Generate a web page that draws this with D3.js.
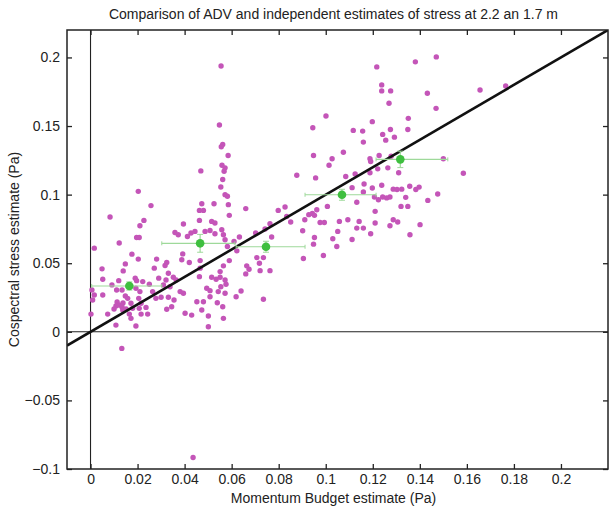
<!DOCTYPE html>
<html>
<head>
<meta charset="utf-8">
<script src="https://cdn.jsdelivr.net/npm/d3@7"></script>
<style>
  body { margin: 0; background: #fff; }
  text { font-family: "Liberation Sans", Arial, sans-serif; fill: #222; }
</style>
</head>
<body>
<svg id="chart"></svg>
<script>
// ADV (cospectral) vs momentum budget stress estimates, Pa
const advX = [
  0.0203, 0.0257, 0.0083, 0.0227, 0.0210, 0.0196, 0.0207, 0.0122, 0.0016, 0.0176,
  0.0148, 0.0203, 0.0281, 0.0049, 0.0139, 0.0271, 0.0190, 0.0196, 0.0052, 0.0120,
  0.0222, 0.0250, 0.0290, 0.0091, 0.0006, 0.0016, 0.0009, 0.0052, 0.0111, 0.0134,
  0.0193, 0.0210, 0.0264, 0.0148, 0.0158, 0.0205, 0.0278, 0.0113, 0.0121, 0.0134,
  0.0108, 0.0138, 0.0100, 0.0137, 0.0151, 0.0172, 0.0179, 0.0215, 0.0236, 0.0207,
  0.0002, 0.0073, 0.0165, 0.0172, 0.0215, 0.0243, 0.0108, 0.0193, 0.0133, 0.0317,
  0.0300, 0.0331, 0.0473, 0.0525, 0.0572, 0.0586, 0.0463, 0.0480, 0.0395, 0.0463,
  0.0515, 0.0529, 0.0359, 0.0373, 0.0412, 0.0427, 0.0444, 0.0487, 0.0508, 0.0529,
  0.0558, 0.0565, 0.0572, 0.0392, 0.0388, 0.0420, 0.0324, 0.0466, 0.0466, 0.0463,
  0.0515, 0.0534, 0.0551, 0.0572, 0.0554, 0.0331, 0.0352, 0.0321, 0.0310, 0.0338,
  0.0364, 0.0355, 0.0381, 0.0395, 0.0494, 0.0508, 0.0543, 0.0572, 0.0452, 0.0480,
  0.0508, 0.0345, 0.0324, 0.0402, 0.0430, 0.0501, 0.0562, 0.0565, 0.0501, 0.0473,
  0.0469, 0.0555, 0.0548, 0.0562, 0.0556, 0.0585, 0.0559, 0.0572, 0.0568, 0.0562,
  0.0554, 0.1001, 0.0945, 0.0948, 0.1027, 0.1014, 0.1075, 0.0877, 0.0957, 0.1085,
  0.0582, 0.0590, 0.0660, 0.0610, 0.0582, 0.0633, 0.0622, 0.0590, 0.0565, 0.0551,
  0.0576, 0.0539, 0.0619, 0.0640, 0.0735, 0.0660, 0.0674, 0.0664, 0.0707, 0.0735,
  0.0718, 0.0721, 0.0763, 0.0702, 0.0742, 0.0763, 0.0770, 0.0798, 0.0827, 0.0834,
  0.0851, 0.0905, 0.0902, 0.0911, 0.0928, 0.0943, 0.0952, 0.0962, 0.0976, 0.0994,
  0.0952, 0.0948, 0.1007, 0.0990, 0.1030, 0.1047, 0.1051, 0.1058, 0.1094, 0.1217,
  0.1381, 0.1470, 0.1238, 0.1238, 0.1276, 0.1432, 0.1656, 0.1765, 0.1269, 0.1469,
  0.1198, 0.1351, 0.1117, 0.1157, 0.1275, 0.1349, 0.1242, 0.1292, 0.1255, 0.1160,
  0.1227, 0.1188, 0.1191, 0.1278, 0.1500, 0.1125, 0.1188, 0.1221, 0.1264, 0.1310,
  0.1585, 0.1112, 0.1163, 0.1198, 0.1238, 0.1287, 0.1303, 0.1323, 0.1357, 0.1383,
  0.1397, 0.1160, 0.1476, 0.1132, 0.1207, 0.1224, 0.1242, 0.1259, 0.1273, 0.1340,
  0.1434, 0.1320, 0.1349, 0.1210, 0.1142, 0.1210, 0.1287, 0.1306, 0.1401, 0.1132,
  0.1160, 0.1273, 0.1191, 0.1358, 0.1112, 0.0436
];
const advY = [
  0.1024, 0.0920, 0.0837, 0.0812, 0.0773, 0.0688, 0.0688, 0.0647, 0.0610, 0.0566,
  0.0495, 0.0530, 0.0530, 0.0459, 0.0444, 0.0464, 0.0391, 0.0373, 0.0383, 0.0373,
  0.0366, 0.0347, 0.0391, 0.0342, 0.0305, 0.0268, 0.0232, 0.0268, 0.0305, 0.0305,
  0.0317, 0.0293, 0.0293, 0.0261, 0.0244, 0.0244, 0.0244, 0.0217, 0.0195, 0.0181,
  0.0188, 0.0210, 0.0166, 0.0159, 0.0166, 0.0208, 0.0171, 0.0208, 0.0178, 0.0171,
  0.0129, 0.0129, 0.0129, 0.0098, 0.0129, 0.0129, 0.0049, 0.0042, -0.0121, 0.0483,
  0.0252, 0.0252, 0.0934, 0.0934, 0.1000, 0.0927, 0.0885, 0.0885, 0.0786, 0.0812,
  0.0805, 0.0793, 0.0724, 0.0707, 0.0695, 0.0720, 0.0732, 0.0732, 0.0739, 0.0715,
  0.0744, 0.0707, 0.0671, 0.0568, 0.0525, 0.0505, 0.0505, 0.0519, 0.0464, 0.0402,
  0.0398, 0.0383, 0.0398, 0.0378, 0.0329, 0.0427, 0.0398, 0.0378, 0.0342, 0.0329,
  0.0378, 0.0232, 0.0293, 0.0281, 0.0317, 0.0300, 0.0293, 0.0281, 0.0219, 0.0219,
  0.0256, 0.0183, 0.0164, 0.0135, 0.0122, 0.0115, 0.0183, 0.0098, 0.0037, 0.0159,
  0.1173, 0.1938, 0.1507, 0.1366, 0.1349, 0.1285, 0.1214, 0.1195, 0.1170, 0.1110,
  0.1056, 0.1573, 0.1488, 0.1285, 0.1261, 0.1214, 0.1309, 0.1141, 0.1122, 0.1132,
  0.0988, 0.0849, 0.0898, 0.0658, 0.0622, 0.0691, 0.0590, 0.0519, 0.0481, 0.0439,
  0.0347, 0.0212, 0.0256, 0.0298, 0.0237, 0.0422, 0.0456, 0.0481, 0.0541, 0.0541,
  0.0500, 0.0446, 0.0446, 0.0720, 0.0749, 0.0788, 0.0691, 0.0885, 0.0910, 0.0841,
  0.0800, 0.0534, 0.0737, 0.0817, 0.0854, 0.0863, 0.0849, 0.0890, 0.0797, 0.0797,
  0.0688, 0.0639, 0.0914, 0.0556, 0.0678, 0.0622, 0.0732, 0.0805, 0.0817, 0.1931,
  0.1968, 0.2004, 0.1800, 0.1756, 0.1756, 0.1739, 0.1763, 0.1792, 0.1666, 0.1629,
  0.1532, 0.1556, 0.1468, 0.1463, 0.1475, 0.1475, 0.1439, 0.1419, 0.1397, 0.1383,
  0.1285, 0.1261, 0.1241, 0.1280, 0.1261, 0.1151, 0.1159, 0.1188, 0.1195, 0.1159,
  0.1156, 0.1051, 0.1077, 0.1048, 0.1068, 0.1040, 0.1037, 0.1040, 0.1061, 0.1037,
  0.1055, 0.1020, 0.1005, 0.0944, 0.0983, 0.0963, 0.0983, 0.0976, 0.0983, 0.0980,
  0.0958, 0.0914, 0.0914, 0.0878, 0.0805, 0.0793, 0.0817, 0.0800, 0.0781, 0.0756,
  0.0756, 0.0773, 0.0715, 0.0707, 0.0673, -0.0916
];

// bin averages with horizontal (x range) and vertical error bars
const binX    = [0.0165, 0.0466, 0.0746, 0.1069, 0.1317];
const binY    = [0.0334, 0.0645, 0.0620, 0.0999, 0.1257];
const binXLo  = [0.0005, 0.0303, 0.0619, 0.0912, 0.1214];
const binXHi  = [0.0303, 0.0614, 0.0912, 0.1214, 0.1519];
const binYErr = [0.003, 0.0065, 0.004, 0.004, 0.006];

// 1:1 reference line
const oneToOne = [-0.01, 0.22];

const xTicks = [0, 0.02, 0.04, 0.06, 0.08, 0.1, 0.12, 0.14, 0.16, 0.18, 0.2];
const yTicks = [-0.1, -0.05, 0, 0.05, 0.1, 0.15, 0.2];

const W = 611, H = 506;
const margin = { top: 30, right: 3, bottom: 37, left: 67 };
const width = W - margin.left - margin.right;
const height = H - margin.top - margin.bottom;

const x = d3.scaleLinear().domain([-0.01, 0.22]).range([0, width]);
const y = d3.scaleLinear().domain([-0.1, 0.22]).range([height, 0]);

const fmt = d => d === 0 ? '0' : d3.format('~g')(d).replace('-', '\u2212');

const svg = d3.select('#chart').attr('width', W).attr('height', H);

const g = svg.append('g')
  .attr('transform', `translate(${margin.left}, ${margin.top})`);

g.append('clipPath').attr('id', 'clip')
  .append('rect').attr('width', width).attr('height', height);

const plot = g.append('g').attr('clip-path', 'url(#clip)');

// zero lines
plot.append('line')
  .attr('x1', x(0)).attr('x2', x(0)).attr('y1', 0).attr('y2', height)
  .attr('stroke', '#222').attr('stroke-width', 1.1);
plot.append('line')
  .attr('x1', 0).attr('x2', width).attr('y1', y(0)).attr('y2', y(0))
  .attr('stroke', '#222').attr('stroke-width', 1.1);

// scatter
plot.selectAll('.adv')
  .data(advX.map((d, i) => [d, advY[i]]))
  .join('circle')
  .attr('class', 'adv')
  .attr('cx', d => x(d[0]))
  .attr('cy', d => y(d[1]))
  .attr('r', 2.7)
  .attr('fill', '#c455b8');

// 1:1 line
plot.append('line')
  .attr('x1', x(oneToOne[0])).attr('y1', y(oneToOne[0]))
  .attr('x2', x(oneToOne[1])).attr('y2', y(oneToOne[1]))
  .attr('stroke', '#111').attr('stroke-width', 2.6);

// bins
const bins = binX.map((d, i) => ({ x: d, y: binY[i], lo: binXLo[i], hi: binXHi[i], e: binYErr[i] }));
const errColor = '#9ed99a';

plot.selectAll('.hbar').data(bins).join('line')
  .attr('x1', d => x(d.lo)).attr('x2', d => x(d.hi))
  .attr('y1', d => y(d.y)).attr('y2', d => y(d.y))
  .attr('stroke', errColor).attr('stroke-width', 1.2);

plot.selectAll('.hcap').data(bins.flatMap(d => [[d.lo, d.y], [d.hi, d.y]])).join('line')
  .attr('x1', d => x(d[0])).attr('x2', d => x(d[0]))
  .attr('y1', d => y(d[1]) - 2).attr('y2', d => y(d[1]) + 2)
  .attr('stroke', errColor).attr('stroke-width', 1);

plot.selectAll('.vbar').data(bins).join('line')
  .attr('x1', d => x(d.x)).attr('x2', d => x(d.x))
  .attr('y1', d => y(d.y - d.e)).attr('y2', d => y(d.y + d.e))
  .attr('stroke', errColor).attr('stroke-width', 1.2);

plot.selectAll('.vcap').data(bins.flatMap(d => [[d.x, d.y - d.e], [d.x, d.y + d.e]])).join('line')
  .attr('x1', d => x(d[0]) - 3).attr('x2', d => x(d[0]) + 3)
  .attr('y1', d => y(d[1])).attr('y2', d => y(d[1]))
  .attr('stroke', errColor).attr('stroke-width', 1);

plot.selectAll('.bin').data(bins).join('circle')
  .attr('cx', d => x(d.x)).attr('cy', d => y(d.y))
  .attr('r', 4.3)
  .attr('fill', '#3fbf3f');

// axes: ticks inside on all four sides
const tickLen = 5;
const axisStyle = sel => {
  sel.select('.domain').remove();
  sel.selectAll('.tick line').attr('stroke', '#222').attr('stroke-width', 1.3);
  sel.selectAll('.tick text').attr('font-size', 14).attr('fill', '#222')
    .attr('font-family', '"Liberation Sans", Arial, sans-serif');
};

g.append('g').attr('transform', `translate(0, ${height})`)
  .call(d3.axisBottom(x).tickValues(xTicks).tickFormat(fmt).tickSizeInner(-tickLen).tickSizeOuter(0).tickPadding(5))
  .call(axisStyle);
g.append('g')
  .call(d3.axisTop(x).tickValues(xTicks).tickFormat('').tickSizeInner(-tickLen).tickSizeOuter(0))
  .call(axisStyle);
g.append('g')
  .call(d3.axisLeft(y).tickValues(yTicks).tickFormat(fmt).tickSizeInner(-tickLen).tickSizeOuter(0).tickPadding(7))
  .call(axisStyle);
g.append('g').attr('transform', `translate(${width}, 0)`)
  .call(d3.axisRight(y).tickValues(yTicks).tickFormat('').tickSizeInner(-tickLen).tickSizeOuter(0))
  .call(axisStyle);

// box
g.append('rect')
  .attr('width', width).attr('height', height)
  .attr('fill', 'none').attr('stroke', '#222').attr('stroke-width', 1.5);

// labels
svg.append('text')
  .attr('x', margin.left + width / 2 - 4).attr('y', 19)
  .attr('text-anchor', 'middle').attr('font-size', 14)
  .text('Comparison of ADV and independent estimates of stress at 2.2 an 1.7 m');

svg.append('text')
  .attr('x', margin.left + width / 2 - 4).attr('y', H - 3)
  .attr('text-anchor', 'middle').attr('font-size', 14)
  .text('Momentum Budget estimate (Pa)');

svg.append('text')
  .attr('transform', `translate(19, ${margin.top + height / 2}) rotate(-90)`)
  .attr('text-anchor', 'middle').attr('font-size', 14)
  .text('Cospectral stress estimate (Pa)');
</script>
</body>
</html>
